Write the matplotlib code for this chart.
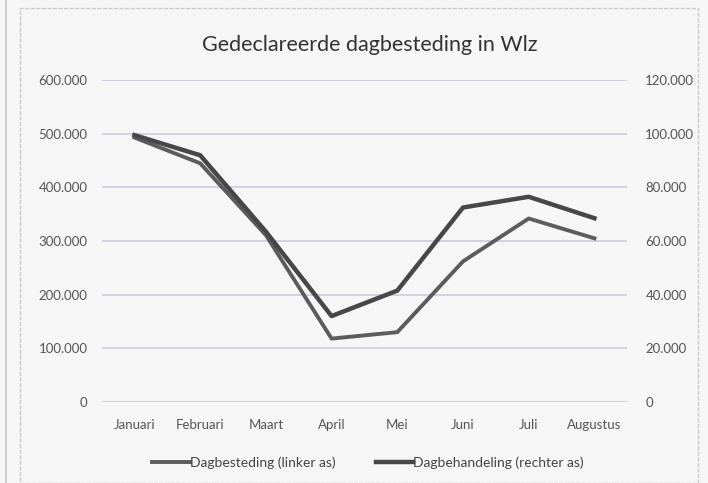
import matplotlib.pyplot as plt
from matplotlib.patches import Rectangle

maanden = ["Januari", "Februari", "Maart", "April", "Mei", "Juni", "Juli", "Augustus"]
# linker as
dagbesteding = [493000, 445000, 311000, 118000, 130000, 262000, 342000, 305000]
# rechter as
dagbehandeling = [99500, 92000, 63500, 32000, 41500, 72500, 76500, 68500]

links_ticks = [0, 100000, 200000, 300000, 400000, 500000, 600000]
rechts_ticks = [0, 20000, 40000, 60000, 80000, 100000, 120000]

def fmt(v):
    return "0" if v == 0 else f"{v:,}".replace(",", ".")

plt.rcParams['font.family'] = ['Lato', 'DejaVu Sans']

fig = plt.figure(figsize=(7.08, 4.83), dpi=100, facecolor="#f6f6f6")
fig.patches.append(Rectangle((20/708, 0.0), 678/708, 475/483, transform=fig.transFigure,
                             fill=False, edgecolor="#c9c9c9", linewidth=1, linestyle=(0, (3, 1))))
fig.patches.append(Rectangle((5/708, 0.0), 0.001, 1.0, transform=fig.transFigure,
                             fill=False, edgecolor="#d0d0d0", linewidth=0.8))

ax = fig.add_axes([0.1435, 0.168, 0.7425, 0.666])
ax.set_facecolor("none")
x = range(len(maanden))

ax.plot(x, dagbesteding, color="#5c5c5c", linewidth=2.8, label="Dagbesteding (linker as)")
ax.set_xlim(-0.5, 7.5)
ax.set_ylim(0, 600000)
ax.set_yticks(links_ticks)
ax.set_yticklabels([fmt(v) for v in links_ticks])
ax.set_xticks(list(x))
ax.set_xticklabels(maanden)
for v in links_ticks:
    ax.axhline(v, color="#c9cce0", linewidth=1.2, zorder=0)

ax2 = ax.twinx()
ax2.plot(x, dagbehandeling, color="#474747", linewidth=3.2, label="Dagbehandeling (rechter as)")
ax2.set_ylim(0, 120000)
ax2.set_yticks(rechts_ticks)
ax2.set_yticklabels([fmt(v) for v in rechts_ticks])

for a in (ax, ax2):
    for s in a.spines.values():
        s.set_visible(False)
    a.tick_params(length=0, labelsize=9.5, colors="#555555")
ax.tick_params(axis="y", pad=10)
ax2.tick_params(axis="y", pad=13)
ax.tick_params(axis="x", pad=12)

fig.text(0.522, 0.907, "Gedeclareerde dagbesteding in Wlz", ha="center", va="center",
         fontsize=15.5, color="#333333")

h1, l1 = ax.get_legend_handles_labels()
h2, l2 = ax2.get_legend_handles_labels()
fig.legend(h1 + h2, l1 + l2, loc="center", bbox_to_anchor=(0.52, 0.043), ncol=2,
           frameon=False, fontsize=10, handlelength=2.7, handletextpad=0.0,
           columnspacing=2.9, labelcolor="#444444")

fig.savefig("out.png", dpi=100, facecolor=fig.get_facecolor())
